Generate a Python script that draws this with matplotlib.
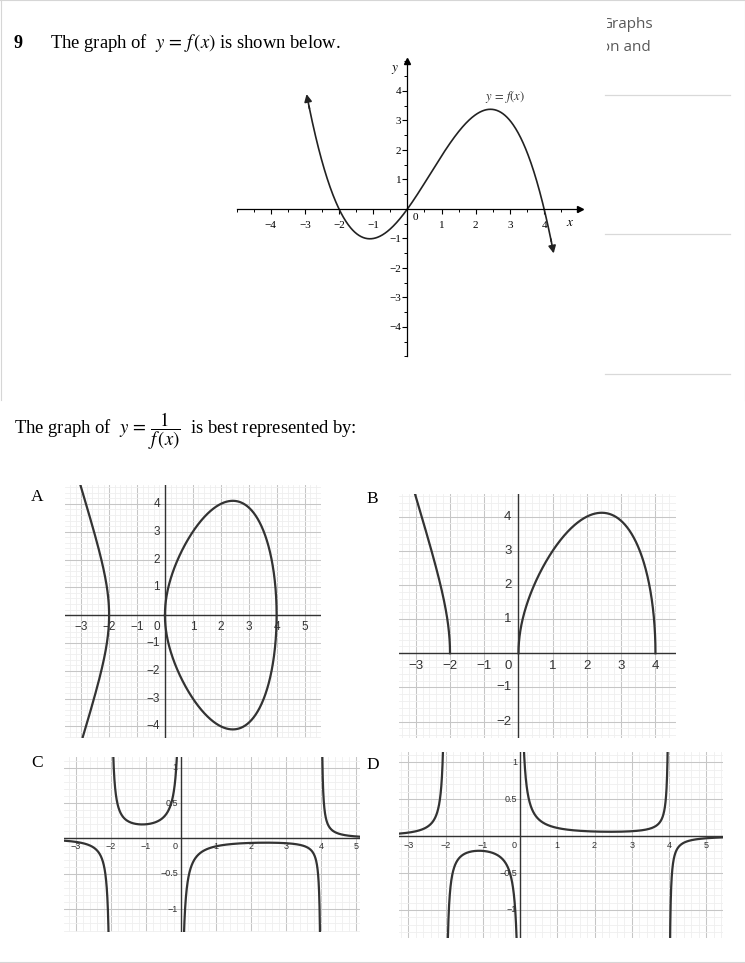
import numpy as np
import matplotlib
matplotlib.use('Agg')
import matplotlib.pyplot as plt
from matplotlib.lines import Line2D
from matplotlib.ticker import MultipleLocator

W, H = 745, 963
plt.rcParams['mathtext.fontset'] = 'stix'

# ---------------- data ----------------
f_roots = [-2, 0, 4]          # zeros of f
f_lead = -0.2                 # leading coefficient (min -1 at x~-1.1, max ~3.4)
f_xrange = [-2.95, 4.28]      # drawn extent of y=f(x)
f_xticks = [-4, -3, -2, -1, 1, 2, 3, 4]
f_yticks = [-4, -3, -2, -1, 1, 2, 3, 4]

A_xticks = [-3, -2, -1, 1, 2, 3, 4, 5]
A_yticks = [-4, -3, -2, -1, 1, 2, 3, 4]
B_xticks = [-3, -2, -1, 1, 2, 3, 4]
B_yticks = [-2, -1, 1, 2, 3, 4]
C_xticks = [-3, -2, -1, 1, 2, 3, 4, 5]
C_yticks = [-1, -0.5, 0.5, 1]
D_xticks = [-3, -2, -1, 1, 2, 3, 4, 5]
D_yticks = [-1, -0.5, 0.5, 1]
panel_letters = ['A', 'B', 'C', 'D']


def f(x):
    p = np.ones_like(x) * f_lead
    for r in f_roots:
        p = p * (x - r)
    return p


def g(x):
    # x(x+2)(4-x), the shape used in the answer panels
    return f(x) / (-f_lead) * -1 * -1


fig = plt.figure(figsize=(W / 100, H / 100), dpi=100)


def px_axes(l, t, r, b):
    return fig.add_axes([l / W, 1 - b / H, (r - l) / W, (b - t) / H])


def fig_line(x0, y0, x1, y1, color='#d6d6d6', lw=0.8):
    fig.add_artist(Line2D([x0 / W, x1 / W], [1 - y0 / H, 1 - y1 / H],
                          transform=fig.transFigure, color=color, lw=lw))


# frame lines
fig_line(0, 0.5, 745, 0.5)
fig_line(0.5, 0, 0.5, 400)
fig_line(744.5, 0, 744.5, 400)
fig_line(0, 962, 745, 962)
for yy in [95, 234, 374]:
    fig_line(605, yy, 730, yy, color='#d9d9d9', lw=0.9)

# clipped grey text top-right
axt = px_axes(607, 0, 745, 60)
axt.set_xlim(607, 745)
axt.set_ylim(60, 0)
axt.axis('off')
axt.text(653, 28, 'Graphs', ha='right', va='baseline', clip_on=True,
         fontsize=11, color='#595959', family='Open Sans')
axt.text(651, 51, 'ion and', ha='right', va='baseline', clip_on=True,
         fontsize=11, color='#595959', family='Open Sans')

# question texts
serif = 'Liberation Serif'
fig.text(14 / W, 1 - 48 / H, '9', fontweight='bold', family=serif,
         fontsize=13, va='baseline')
fig.text(50 / W, 1 - 48 / H, r'The graph of  $y\,=\,f\,(x)$ is shown below.',
         family=serif, fontsize=13.4, va='baseline')
fig.text(14 / W, 1 - 434 / H,
         r'The graph of  $y\,=\,\dfrac{1}{f\,(x)}$  is best represented by:',
         family=serif, fontsize=13.4, va='baseline')

# ---------------- top graph y = f(x) ----------------
ax0 = px_axes(236.5, 61.5, 580, 356.5)
ax0.set_xlim(-5, 5.05)
ax0.set_ylim(-5, 5)
for s in ['top', 'right']:
    ax0.spines[s].set_visible(False)
ax0.spines['left'].set_position('zero')
ax0.spines['bottom'].set_position('zero')
for s in ['left', 'bottom']:
    ax0.spines[s].set_linewidth(0.9)
ax0.set_xticks(f_xticks)
ax0.set_yticks(f_yticks)
ax0.xaxis.set_minor_locator(MultipleLocator(0.5))
ax0.yaxis.set_minor_locator(MultipleLocator(0.5))
ax0.tick_params(which='major', direction='out', length=3.5, width=0.8, pad=5,
                labelsize=8)
ax0.tick_params(which='minor', direction='out', length=2.5, width=0.7)
ax0.tick_params(axis='y', pad=1)
ax0.set_xticklabels([str(t).replace('-', '\u2212') for t in f_xticks], family=serif)
ax0.set_yticklabels([str(t).replace('-', '\u2212') for t in f_yticks], family=serif)
ax0.plot(1, 0, '>', color='k', ms=4, transform=ax0.get_yaxis_transform(), clip_on=False)
ax0.plot(0, 1, '^', color='k', ms=4, transform=ax0.get_xaxis_transform(), clip_on=False)
ax0.text(0.15, -0.12, '0', family=serif, fontsize=8, ha='left', va='top')
ax0.text(4.75, -0.25, r'$x$', fontsize=9.5, ha='center', va='top')
ax0.text(-0.37, 4.72, r'$y$', fontsize=9.5, ha='center', va='center')

xs = np.linspace(f_xrange[0], f_xrange[1], 600)
ys = f(xs)
ax0.plot(xs[6:-6], ys[6:-6], color='#222222', lw=1.2)
arrow_kw = dict(arrowstyle='-|>', color='#222222', lw=1.2, mutation_scale=11,
                shrinkA=0, shrinkB=0)
ax0.annotate('', xy=(xs[-1], ys[-1]), xytext=(xs[-8], ys[-8]), arrowprops=arrow_kw)
ax0.annotate('', xy=(xs[0], ys[0]), xytext=(xs[7], ys[7]), arrowprops=arrow_kw)
ax0.text(2.85, 3.8, r'$y\,=\,f(x)$', fontsize=9, ha='center', va='center',
         color='#333333')


# ---------------- answer panels ----------------
def fmt(t):
    s = str(int(t)) if float(t).is_integer() else str(t)
    return s.replace('-', '\u2212')


def panel(rect, xlim, ylim, xstep, ystep, xticks, yticks, fs, dx, dy):
    ax = px_axes(*rect)
    ax.set_xlim(xlim)
    ax.set_ylim(ylim)
    ax.xaxis.set_major_locator(MultipleLocator(xstep))
    ax.yaxis.set_major_locator(MultipleLocator(ystep))
    ax.xaxis.set_minor_locator(MultipleLocator(xstep / 5))
    ax.yaxis.set_minor_locator(MultipleLocator(ystep / 5))
    ax.grid(which='minor', color='#efefef', lw=0.6)
    ax.grid(which='major', color='#c6c6c6', lw=0.75)
    ax.set_axisbelow(True)
    ax.tick_params(which='both', length=0, labelbottom=False, labelleft=False)
    for s in ax.spines.values():
        s.set_visible(False)
    ax.axhline(0, color='#333333', lw=1.0, zorder=2)
    ax.axvline(0, color='#333333', lw=1.0, zorder=2)
    lab = dict(textcoords='offset points', fontsize=fs, color='#333333',
               family='Liberation Sans', annotation_clip=False, zorder=3)
    for t in xticks:
        ax.annotate(fmt(t), xy=(t, 0), xytext=(0, -dy * 0.72), ha='center',
                    va='center', **lab)
    for t in yticks:
        ax.annotate(fmt(t), xy=(0, t), xytext=(-dx * 0.72, 0), ha='right',
                    va='center', **lab)
    ax.annotate('0', xy=(0, 0), xytext=(-dx * 0.72, -dy * 0.72), ha='right',
                va='center', **lab)
    return ax


curve = dict(color='#333333', lw=1.6, zorder=4)

# A
axA = panel((65, 485, 321, 738), (-3.58, 5.59), (-4.42, 4.68), 1, 1,
            A_xticks, A_yticks, 8.5, 5, 12)
s = np.linspace(0, 1, 800)
xl = -2 - (1.6) * s ** 2
yl = np.sqrt(np.clip(g(xl), 0, None))
axA.plot(np.concatenate([xl[::-1], xl]), np.concatenate([-yl[::-1], yl]), **curve)
xr = 2 - 2 * np.cos(np.pi * s)
yr = np.sqrt(np.clip(g(xr), 0, None))
axA.plot(np.concatenate([xr, xr[::-1]]), np.concatenate([yr, -yr[::-1]]), **curve)

# B
axB = panel((399, 494, 676, 738), (-3.49, 4.6), (-2.48, 4.66), 1, 1,
            B_xticks, B_yticks, 9.5, 7, 13)
axB.plot(xl, yl, **curve)
axB.plot(xr, yr, **curve)

# C and D
segs = [(-3.6, -2), (-2, 0), (0, 4), (4, 5.6)]
axC = panel((64, 757, 360, 932), (-3.33, 5.11), (-1.32, 1.15), 1, 0.5,
            C_xticks, C_yticks, 6.5, 3, 8.5)
axD = panel((399, 752, 723, 938), (-3.25, 5.45), (-1.38, 1.14), 1, 0.5,
            D_xticks, D_yticks, 6.5, 3, 9)
for a, b in segs:
    xx = np.linspace(a + 1e-4, b - 1e-4, 5000)
    gg = g(xx)
    axC.plot(xx, -1 / gg, **curve)
    axD.plot(xx, 1 / gg, **curve)

# panel letters
for letter, (px, py) in zip(panel_letters, [(31, 497), (366, 499), (31, 763), (366, 765)]):
    fig.text(px / W, 1 - py / H, letter, family=serif, fontsize=12.5,
             ha='left', va='center')

fig.savefig('out.png', dpi=100)
